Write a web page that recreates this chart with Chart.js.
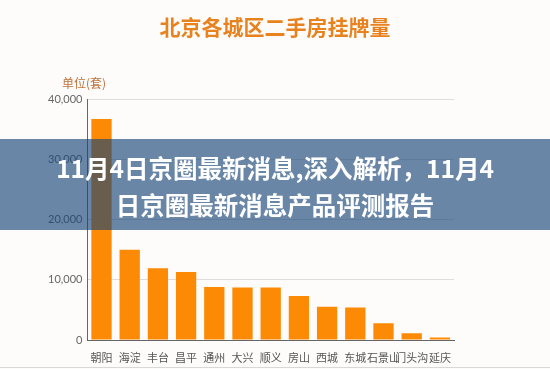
<!DOCTYPE html>
<html>
<head>
<meta charset="utf-8">
<script src="https://cdn.jsdelivr.net/npm/chart.js@4"></script>
<style>
  html, body { margin: 0; padding: 0; background: #fdfcfb; }
  #wrap { position: relative; width: 550px; height: 369px; overflow: hidden; font-family: "Noto Sans CJK SC", sans-serif; }
  #title { position: absolute; left: 0; top: 11px; width: 550px; text-align: center; color: #e8821e; font-size: 21px; font-weight: bold; }
  #unit { position: absolute; left: 62px; top: 74px; color: #c0703a; font-size: 12px; }
  #banner { position: absolute; left: 0; top: 139px; width: 550px; height: 91px; background: rgba(22, 67, 119, 0.64);
            color: #fff; font-weight: bold; font-size: 24.5px; line-height: 37px; text-align: center; padding-top: 10px; box-sizing: border-box; }
  #edge { position: absolute; left: 0; top: 367px; width: 550px; height: 1px; background: #d8d8d8; }
</style>
</head>
<body>
<div id="wrap">
  <canvas id="mainChart" width="550" height="369"></canvas>
  <div id="title">北京各城区二手房挂牌量</div>
  <div id="unit">单位(套)</div>
  <div id="banner">11月4日京圈最新消息,深入解析，11月4<br>日京圈最新消息产品评测报告</div>
  <div id="edge"></div>
</div>
<script>
const districts = ['朝阳', '海淀', '丰台', '昌平', '通州', '大兴', '顺义', '房山', '西城', '东城', '石景山', '门头沟', '延庆'];
const listings = [36700, 15000, 11900, 11300, 8800, 8700, 8700, 7300, 5500, 5400, 2800, 1100, 400];
const yTicks = [0, 10000, 20000, 30000, 40000];

const ctx = document.getElementById('mainChart').getContext('2d');

new Chart(ctx, {
    type: 'bar',
    data: {
        labels: districts,
        datasets: [{
            label: '挂牌量',
            data: listings,
            backgroundColor: '#fd8a04',
            categoryPercentage: 0.72,
            barPercentage: 1
        }]
    },
    options: {
        responsive: false,
        animation: false,
        layout: { padding: { top: 99, left: 43, right: 96, bottom: 0 } },
        plugins: { legend: { display: false }, tooltip: { enabled: false } },
        scales: {
            y: {
                min: 0,
                max: 40000,
                afterBuildTicks: axis => { axis.ticks = yTicks.map(v => ({ value: v })); },
                grid: { color: '#dddddd', drawTicks: false },
                border: { color: '#666666' },
                ticks: { color: '#666', padding: 5, font: { size: 11, family: 'Lato' },
                         callback: v => v.toLocaleString('en-US') }
            },
            x: {
                afterFit: s => { s.height = 29; },
                grid: { display: false },
                border: { color: '#666666' },
                ticks: { color: '#555', padding: 3, font: { size: 11, family: 'Noto Sans CJK SC' }, autoSkip: false, maxRotation: 0 }
            }
        }
    }
});
</script>
</body>
</html>
